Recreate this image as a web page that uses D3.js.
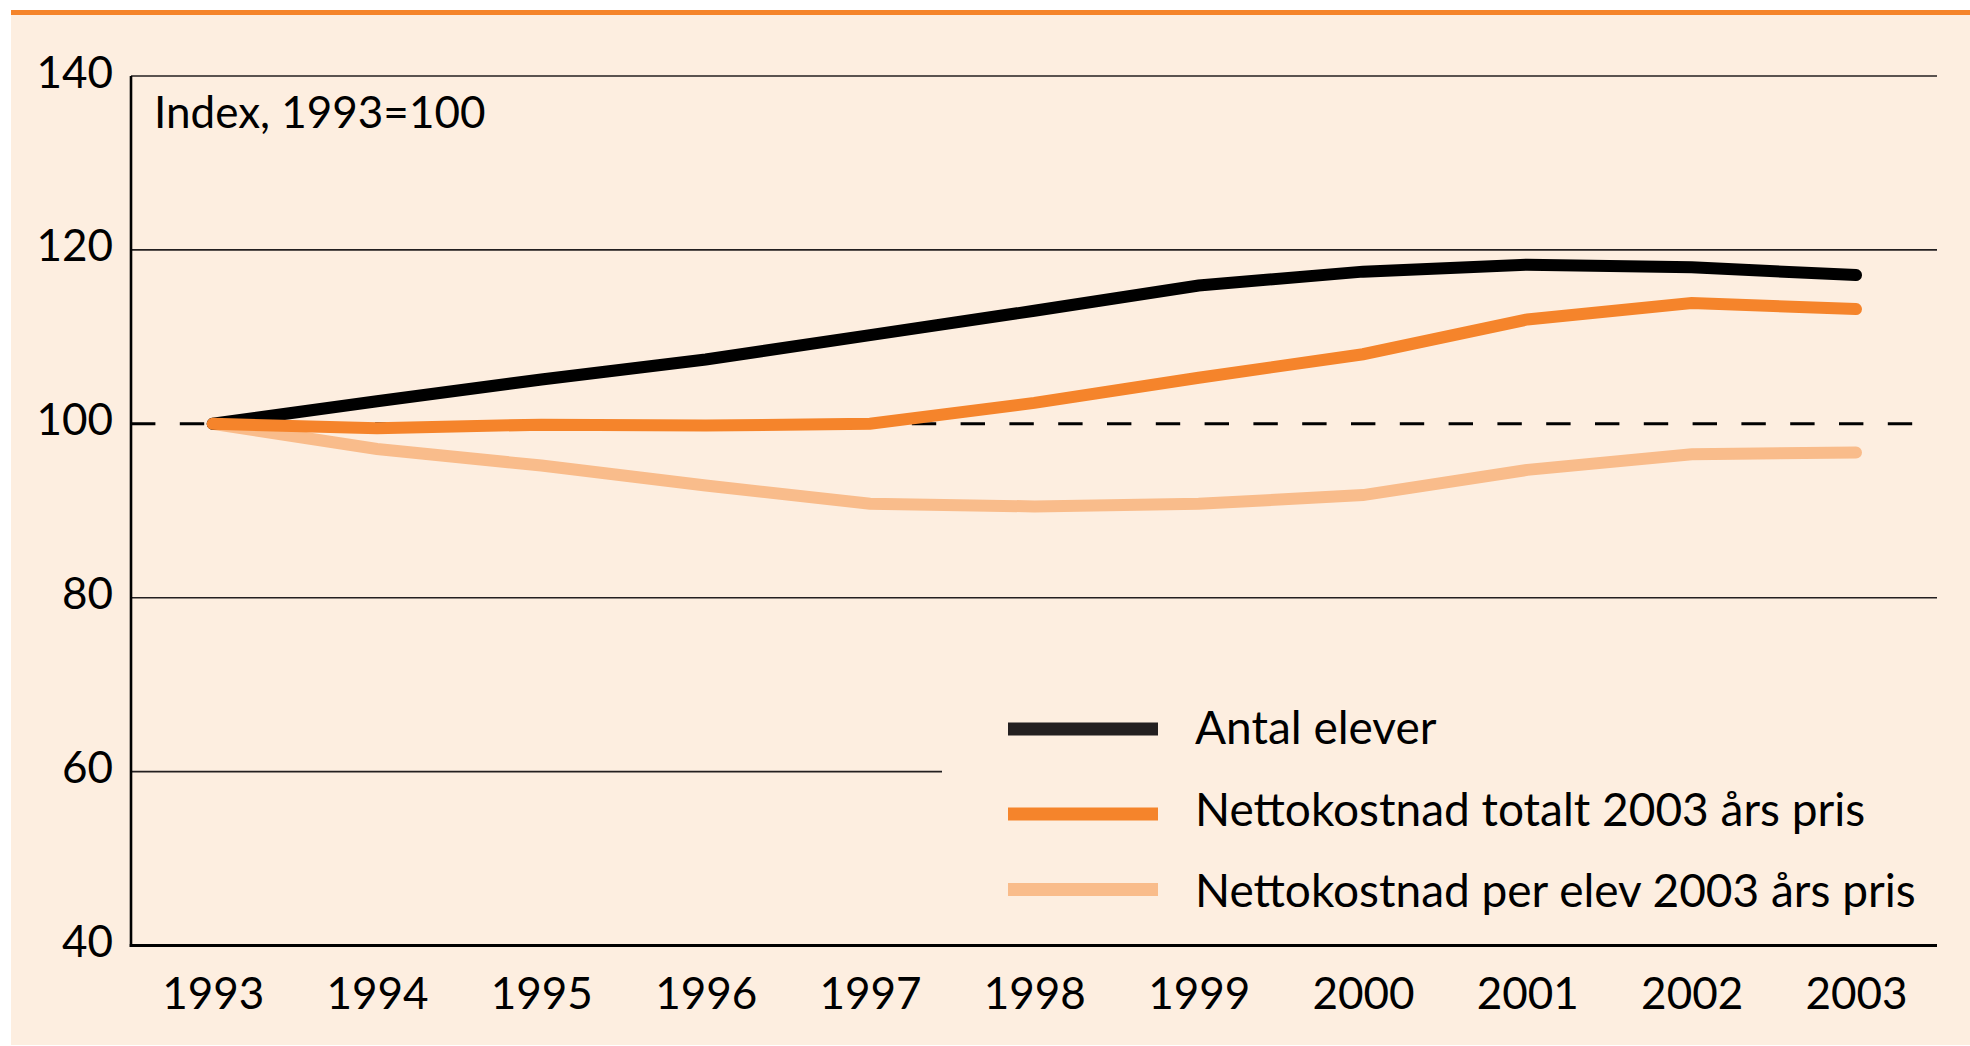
<!DOCTYPE html>
<html>
<head>
<meta charset="utf-8">
<script src="https://cdn.jsdelivr.net/npm/d3@7"></script>
<style>
  html, body { margin: 0; padding: 0; background: #ffffff; }
  svg { display: block; }
  text { font-family: Lato, "Open Sans", sans-serif; fill: #000; }
</style>
</head>
<body>
<svg id="chart"></svg>
<script>
// data (index, 1993 = 100)
const years = [1993, 1994, 1995, 1996, 1997, 1998, 1999, 2000, 2001, 2002, 2003]
const antalElever = [100, 102.6, 105.1, 107.4, 110.2, 113.0, 115.9, 117.5, 118.3, 118.0, 117.1]
const nettoTotalt = [100, 99.5, 99.9, 99.8, 100.0, 102.4, 105.3, 108.0, 112.0, 113.9, 113.2]
const nettoPerElev = [100, 97.1, 95.2, 92.9, 90.8, 90.5, 90.8, 91.8, 94.7, 96.5, 96.7]
const seriesNames = ["Antal elever", "Nettokostnad totalt 2003 års pris", "Nettokostnad per elev 2003 års pris"]
const seriesColors = ["#000000", "#f5842b", "#f9bc8b"]
const legendColors = ["#231f20", "#f5842b", "#f9bc8b"]
const yTicks = [40, 60, 80, 100, 120, 140]
const fullGrid = [140, 120, 80]
const shortGrid = [60]
const refValue = 100
const unitLabel = "Index, 1993=100"

const W = 1970, H = 1046
const axisX = 131, plotRight = 1937
const tickFont = 44
const legendFont = 46

const svg = d3.select('#chart').attr('width', W).attr('height', H)

// page frame: beige panel with orange rule on top
svg.append('rect').attr('width', W).attr('height', H).attr('fill', '#ffffff')
svg.append('rect').attr('x', 11).attr('y', 10).attr('width', W - 11).attr('height', H - 11).attr('fill', '#fdeee0')
svg.append('rect').attr('x', 11).attr('y', 10).attr('width', W - 11).attr('height', 5).attr('fill', '#f5842b')

const x = d3.scaleLinear().domain([1993, 2003]).range([212.7, 1856])
const y = d3.scaleLinear().domain([40, 140]).range([945.5, 76])

// grid lines
svg.append('g')
  .selectAll('line')
  .data(fullGrid)
  .join('line')
  .attr('x1', axisX).attr('x2', plotRight)
  .attr('y1', d => y(d)).attr('y2', d => y(d))
  .style('stroke', '#231f20').style('stroke-width', 1.6)

svg.append('g')
  .selectAll('line')
  .data(shortGrid)
  .join('line')
  .attr('x1', axisX).attr('x2', 942)
  .attr('y1', d => y(d)).attr('y2', d => y(d))
  .style('stroke', '#231f20').style('stroke-width', 1.6)

// dashed reference line at 100
svg.append('line')
  .attr('x1', axisX).attr('x2', 1915)
  .attr('y1', y(refValue)).attr('y2', y(refValue))
  .style('stroke', '#000').style('stroke-width', 3)
  .style('stroke-dasharray', '24.4,24.4')

// axes
svg.append('line')
  .attr('x1', axisX).attr('x2', axisX)
  .attr('y1', y(140)).attr('y2', y(40) + 1.5)
  .style('stroke', '#000').style('stroke-width', 2.6)
svg.append('line')
  .attr('x1', axisX - 1.3).attr('x2', plotRight)
  .attr('y1', y(40)).attr('y2', y(40))
  .style('stroke', '#000').style('stroke-width', 3)

const yAxis = svg.append('g')
  .attr('transform', `translate(${axisX},0)`)
  .call(d3.axisLeft(y).tickValues(yTicks).tickSize(0).tickPadding(18))
yAxis.select('.domain').remove()
yAxis.selectAll('text')
  .attr('dy', null).attr('y', 11)
  .style('font-size', tickFont + 'px')
  .style('font-family', 'Lato, sans-serif')
  .attr('fill', '#000')

const xAxis = svg.append('g')
  .attr('transform', `translate(0,${y(40)})`)
  .call(d3.axisBottom(x).tickValues(years).tickFormat(d3.format('d')).tickSize(0).tickPadding(0))
xAxis.select('.domain').remove()
xAxis.selectAll('text')
  .attr('dy', null).attr('y', 63)
  .style('font-size', tickFont + 'px')
  .style('font-family', 'Lato, sans-serif')
  .attr('fill', '#000')

svg.append('text')
  .attr('x', 154).attr('y', 128)
  .style('font-size', tickFont + 'px')
  .text(unitLabel)

// series lines, light first so the darker ones sit on top
const series = [
  {name: seriesNames[2], values: nettoPerElev, color: seriesColors[2]},
  {name: seriesNames[0], values: antalElever, color: seriesColors[0]},
  {name: seriesNames[1], values: nettoTotalt, color: seriesColors[1]}
]
const line = d3.line().x((d, i) => x(years[i])).y(d => y(d))

svg.append('g')
  .selectAll('path')
  .data(series)
  .join('path')
  .attr('d', d => line(d.values))
  .attr('fill', 'none')
  .style('stroke', d => d.color)
  .style('stroke-width', 12)
  .style('stroke-linecap', 'round')
  .style('stroke-linejoin', 'miter')

// legend
const legendSwatchY = [729, 814, 889.5]
const legendTextY = [744, 826, 907]
const legend = svg.append('g')
legend.selectAll('line')
  .data(seriesNames)
  .join('line')
  .attr('x1', 1008).attr('x2', 1158)
  .attr('y1', (d, i) => legendSwatchY[i]).attr('y2', (d, i) => legendSwatchY[i])
  .style('stroke', (d, i) => legendColors[i])
  .style('stroke-width', 13)
legend.selectAll('text')
  .data(seriesNames)
  .join('text')
  .attr('x', 1195)
  .attr('y', (d, i) => legendTextY[i])
  .style('font-size', legendFont + 'px')
  .text(d => d)
</script>
</body>
</html>
